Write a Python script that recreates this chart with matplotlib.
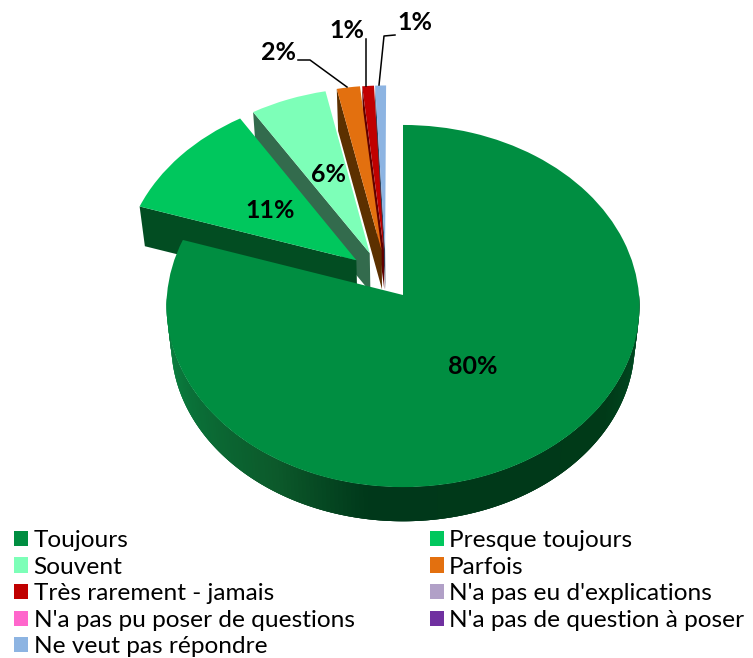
# Camembert 3D eclate avec legende sur deux colonnes
import numpy as np
import matplotlib
matplotlib.use('Agg')
import matplotlib.pyplot as plt
import matplotlib.transforms as mtransforms
from matplotlib.colors import to_rgb
from matplotlib.patches import Polygon

plt.rcParams['font.family'] = ['Lato', 'DejaVu Sans']

# Donnees
categories = ['Toujours', 'Presque toujours', 'Souvent', 'Parfois', 'Très rarement - jamais',
              "N'a pas eu d'explications", "N'a pas pu poser de questions",
              "N'a pas de question à poser", 'Ne veut pas répondre']
valeurs = [80, 11, 5.6, 1.7, 0.86, 0, 0, 0, 0.8]
etiquettes = ['80%', '11%', '6%', '2%', '1%', '', '', '', '1%']

couleurs = ['#008e41', '#00c75d', '#7dffb8', '#e3700f', '#c00000', '#b1a0c7', '#ff66cc', '#7030a0', '#8db4e2']
faces = ['#004a20', '#024d22', '#336b4d', '#5c3000', '#600000', '#555555', '#555555', '#555555', '#34455c']

# decalage de chaque part sur le disque (explosion)
du = [0, -0.2, -0.143, -0.092, -0.082, 0, 0, 0, -0.077]
dv = [0, 0.195, 0.235, 0.25, 0.25, 0, 0, 0, 0.25]

# position des etiquettes en pixels
pos_etiq = [(473, 367), (270, 210), (329, 174), (279, 53), (347, 31), None, None, None, (415, 22)]

# parametres de la perspective
x0, y0 = 403, 295
rx, ry = 236, 180.4
k = 0.0609
prof = 38


def projeter(u, v, z=0):
    s = 1 / (1 + k * v)
    f = 1 - 0.02 * z
    return x0 + rx * u * s * f, y0 - ry * v * s * f + prof * z


class Perspective(mtransforms.Transform):
    input_dims = 2
    output_dims = 2

    def transform_non_affine(self, values):
        values = np.asarray(values)
        x, y = projeter(values[:, 0], values[:, 1])
        return np.column_stack([x, y])


# couleur du flanc selon l'angle
angles_flanc = [-180, -150, -121, -98, -34, 0]
cols_flanc = [to_rgb(c) for c in ['#0a8a45', '#0a7038', '#0c5a2b', '#00381a', '#003a18', '#005025']]


def couleur_flanc(a):
    return tuple(np.interp(a, angles_flanc, [c[i] for c in cols_flanc]) for i in range(3))


fig = plt.figure(figsize=(7.53, 6.58), dpi=100)
ax = fig.add_axes([0, 0, 1, 1])

wedges, _ = ax.pie(valeurs, colors=couleurs, startangle=90, counterclock=False, radius=1)
ax.set_aspect('auto')
ax.set_xlim(0, 753)
ax.set_ylim(658, 0)
ax.axis('off')

persp = Perspective()
ordre = [8, 4, 3, 2, 1, 0]  # du fond vers l'avant
for rang, i in enumerate(ordre):
    w = wedges[i]
    w.set_center((du[i], dv[i]))
    w.set_transform(persp + ax.transData)
    w.set_clip_on(False)
    w.set_zorder(rang * 2 + 2)

    # face de coupe cote theta2 (seulement pour les parts eclatees)
    if i != 0:
        a = np.radians(w.theta2)
        ua, va = du[i], dv[i]
        ub, vb = ua + np.cos(a), va + np.sin(a)
        pts = [projeter(ua, va, 0), projeter(ub, vb, 0), projeter(ub, vb, 1), projeter(ua, va, 1)]
        ax.add_patch(Polygon(pts, closed=True, fc=faces[i], ec='none', zorder=rang * 2 + 1))

    # flanc exterieur visible: bandes qui se recouvrent pour eviter les joints
    debut = max(w.theta1, -180)
    fin = min(w.theta2, 0)
    if fin > debut:
        t = np.linspace(debut, fin, 181)
        for j in range(len(t) - 1):
            arc = np.radians(np.linspace(t[j], t[min(j + 3, len(t) - 1)], 5))
            haut = [projeter(np.cos(r), np.sin(r), 0) for r in arc]
            bas = [projeter(np.cos(r), np.sin(r), 1) for r in arc[::-1]]
            c = couleur_flanc((t[j] + t[j + 1]) / 2)
            ax.add_patch(Polygon(haut + bas, closed=True, fc=c, ec='none', zorder=rang * 2 + 1))

# etiquettes
for lab, pos in zip(etiquettes, pos_etiq):
    if pos is not None:
        ax.text(pos[0], pos[1], lab, fontsize=18, fontweight='bold', color='black',
                ha='center', va='center', zorder=30)

# traits de rappel
ax.plot([298, 310, 347], [60, 60, 87], color='black', lw=1.1, zorder=20, clip_on=False)
ax.plot([366, 366], [39, 86], color='black', lw=1.1, zorder=20)
ax.plot([395, 384, 379], [35, 36, 85], color='black', lw=1.1, zorder=20)

# legende: remplie par colonne, donc on reordonne pour lire par ligne
ordre_leg = [0, 2, 4, 6, 8, 1, 3, 5, 7]
leg = ax.legend([wedges[i] for i in ordre_leg], [categories[i] for i in ordre_leg],
                ncol=2, loc='upper left', bbox_to_anchor=(14 / 753, 1 - 530 / 658), bbox_transform=fig.transFigure,
                frameon=False, fontsize=17.6, handlelength=0.58, handleheight=0.58, handletextpad=0.22,
                labelspacing=0.23, columnspacing=3.07, borderpad=0, borderaxespad=0)
leg.set_zorder(40)

fig.savefig('out.png', dpi=100)
